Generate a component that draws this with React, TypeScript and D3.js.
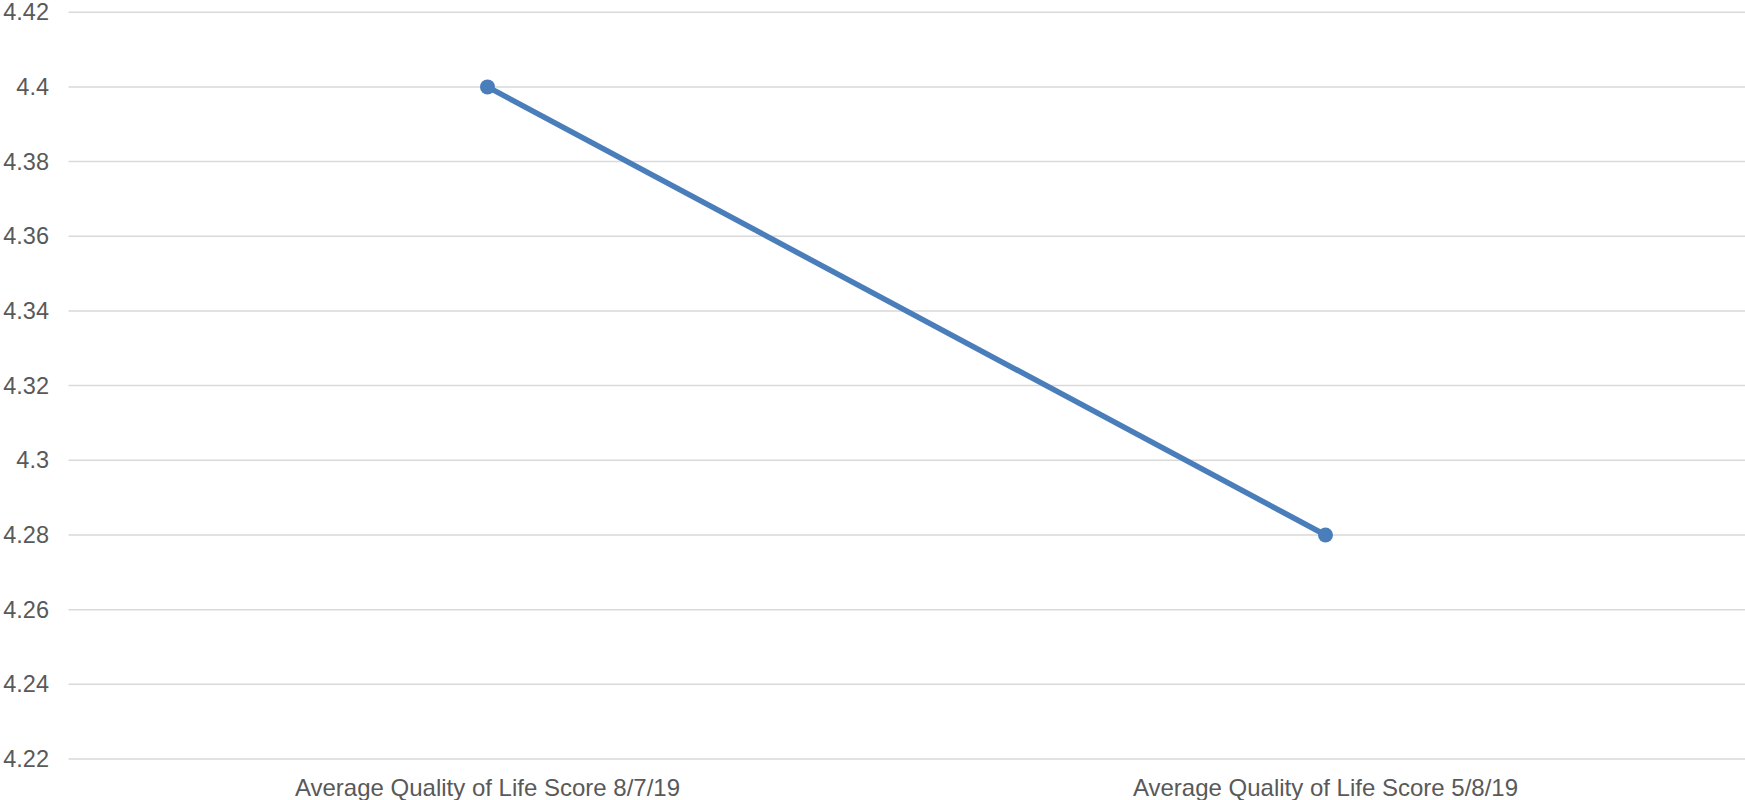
import React from "react";
import * as d3 from "d3";

const categories = ["Average Quality of Life Score 8/7/19", "Average Quality of Life Score 5/8/19"];
const values = [4.4, 4.28];
const yTicks = [4.22, 4.24, 4.26, 4.28, 4.3, 4.32, 4.34, 4.36, 4.38, 4.4, 4.42];
const yDomain = [4.22, 4.42];

const W = 1745;
const H = 800;
const margin = { left: 68.5, right: 0.5, top: 12.2, bottom: 41 };

export default function App() {
  const x = d3
    .scaleBand<string>()
    .domain(categories)
    .range([margin.left, W - margin.right])
    .padding(0);
  const y = d3.scaleLinear().domain(yDomain).range([H - margin.bottom, margin.top]);
  const line = d3
    .line<number>()
    .x((_, i) => (x(categories[i]) as number) + x.bandwidth() / 2)
    .y((d) => y(d));
  const font = "'Liberation Sans', Arial, sans-serif";
  const textColor = "#595959";
  return (
    <div style={{ position: "absolute", left: 0, top: 0 }}>
      <svg width={W} height={H} style={{ display: "block", background: "#fff" }}>
        {yTicks.map((t) => (
          <g key={t}>
            <line
              x1={margin.left}
              x2={W}
              y1={y(t)}
              y2={y(t)}
              stroke="#d9d9d9"
              strokeWidth={1.5}
            />
            <text
              x={49}
              y={y(t)}
              textAnchor="end"
              dominantBaseline="central"
              fontFamily={font}
              fontSize={23.5}
              fill={textColor}
            >
              {d3.format("")(+t.toFixed(2))}
            </text>
          </g>
        ))}
        {categories.map((c) => (
          <text
            key={c}
            x={(x(c) as number) + x.bandwidth() / 2}
            y={787}
            textAnchor="middle"
            dominantBaseline="central"
            fontFamily={font}
            fontSize={24}
            fill={textColor}
          >
            {c}
          </text>
        ))}
        <path d={line(values) || ""} fill="none" stroke="#4a7ebb" strokeWidth={5.5} strokeLinecap="round" />
        {values.map((v, i) => (
          <circle
            key={i}
            cx={(x(categories[i]) as number) + x.bandwidth() / 2}
            cy={y(v)}
            r={7.5}
            fill="#4a7ebb"
          />
        ))}
      </svg>
    </div>
  );
}
